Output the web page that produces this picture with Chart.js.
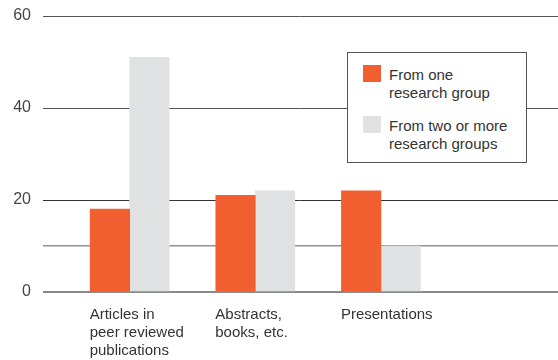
<!DOCTYPE html>
<html>
<head>
<meta charset="utf-8">
<script src="https://cdn.jsdelivr.net/npm/chart.js@4/dist/chart.umd.min.js"></script>
<style>
    html, body { margin: 0; padding: 0; background: #fff; }
    #wrap { position: relative; width: 558px; height: 360px; }
    #legend {
        position: absolute; left: 347px; top: 52px; width: 180px; height: 111px;
        box-sizing: border-box; border: 1px solid #555; background: #fff;
        font-family: "Liberation Sans", Arial, sans-serif; font-size: 15px; color: #333;
    }
    .item { position: absolute; left: 15px; }
    .swatch { position: absolute; left: 0; top: 0; width: 18px; height: 17px; }
    .text { position: absolute; left: 26px; top: 1px; line-height: 18px; white-space: nowrap; }
</style>
</head>
<body>
<div id="wrap">
    <canvas id="chart" width="558" height="360"></canvas>
    <div id="legend"></div>
</div>
<script>
"use strict";

// categories (x positions 1..3) and their label lines
const categories = [
    ["Articles in", "peer reviewed", "publications"],
    ["Abstracts,", "books, etc."],
    ["Presentations"]
];
const seriesNames = [
    ["From one", "research group"],
    ["From two or more", "research groups"]
];
const seriesColors = ["#f15f30", "#e0e1e3"];
const oneGroup = [18, 21, 22];
const twoOrMore = [51, 22, 10];
const yTicks = [0, 10, 20, 40, 60];
const yLabels = ["0", "", "20", "40", "60"];

const FONT = "'Liberation Sans', Arial, sans-serif";

function toPoints(values) {
    return values.map((v, i) => ({ x: i + 1, y: v }));
}

const datasets = [oneGroup, twoOrMore].map((vals, i) => ({
    label: seriesNames[i].join(" "),
    data: toPoints(vals),
    backgroundColor: seriesColors[i],
    borderWidth: 0,
    barThickness: 39.5
}));

function gridColor(ctx) {
    const v = ctx.tick && ctx.tick.value;
    if (v === 0) return "#8a8a8a";
    if (v === 10) return "#929292";
    if (v === 20) return "#333";
    return "#555";
}
function gridWidth(ctx) {
    const v = ctx.tick && ctx.tick.value;
    if (v === 0) return 2;
    if (v === 10) return 1.5;
    return 1;
}

const chart = new Chart(document.getElementById("chart").getContext("2d"), {
    type: "bar",
    data: { datasets: datasets },
    options: {
        responsive: false,
        animation: false,
        layout: { padding: { top: 16, right: 0, left: 0, bottom: 0 } },
        plugins: { legend: { display: false }, tooltip: { enabled: false } },
        scales: {
            x: {
                type: "linear",
                min: 0.31,
                max: 4.41,
                offset: false,
                grid: { display: false, offset: false },
                border: { display: false },
                afterBuildTicks: s => { s.ticks = categories.map((c, i) => ({ value: i + 1 })); },
                afterFit: s => { s.height = 68; s.paddingLeft = 0; s.paddingRight = 0; },
                ticks: {
                    autoSkip: false,
                    maxRotation: 0,
                    align: "start",
                    labelOffset: -40,
                    padding: 6,
                    color: "#333",
                    font: { family: FONT, size: 15, lineHeight: 1.2 },
                    callback: v => categories[v - 1] || ""
                }
            },
            y: {
                min: 0,
                max: 60,
                grid: { color: gridColor, lineWidth: gridWidth, drawTicks: false },
                border: { display: false },
                afterBuildTicks: s => { s.ticks = yTicks.map(v => ({ value: v })); },
                afterFit: s => { s.width = 43; s.paddingTop = 0; s.paddingBottom = 0; },
                ticks: {
                    padding: 12,
                    color: "#444",
                    font: { family: FONT, size: 16 },
                    callback: v => yLabels[yTicks.indexOf(v)]
                }
            }
        }
    }
});

// html legend with two-line labels
const legend = document.getElementById("legend");
seriesNames.forEach((lines, i) => {
    const item = document.createElement("div");
    item.className = "item";
    item.style.top = (12 + i * 51) + "px";
    item.innerHTML = '<div class="swatch" style="background:' + chart.data.datasets[i].backgroundColor +
        '"></div><div class="text">' + lines.join("<br>") + "</div>";
    legend.appendChild(item);
});
</script>
</body>
</html>
